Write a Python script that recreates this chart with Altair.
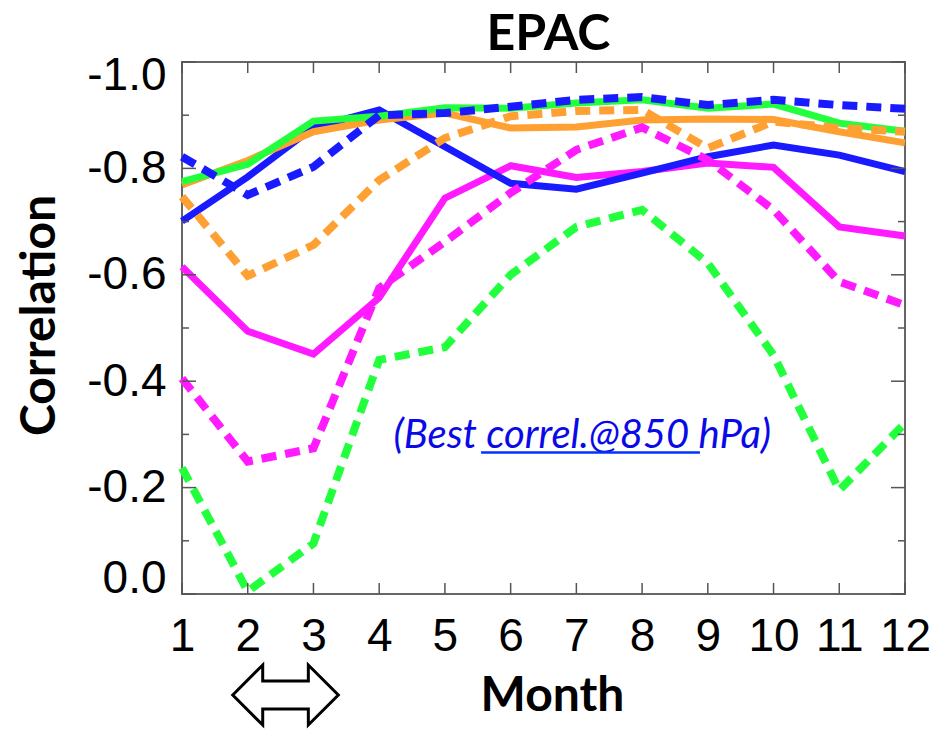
import altair as alt
import pandas as pd

# Monthly correlation curves (month 1..12), y axis drawn reversed (-1 at top)
months = list(range(1, 13))

green_solid = [-0.775, -0.808, -0.889, -0.898, -0.914, -0.913, -0.923, -0.929, -0.913, -0.921, -0.885, -0.870]
orange_solid = [-0.769, -0.815, -0.869, -0.891, -0.904, -0.876, -0.878, -0.891, -0.893, -0.892, -0.869, -0.848]
blue_solid = [-0.701, -0.784, -0.877, -0.910, -0.841, -0.772, -0.761, -0.791, -0.822, -0.844, -0.825, -0.794]
magenta_solid = [-0.615, -0.494, -0.451, -0.557, -0.744, -0.805, -0.783, -0.794, -0.810, -0.802, -0.690, -0.673]

green_dash = [-0.237, -0.005, -0.095, -0.440, -0.464, -0.600, -0.690, -0.722, -0.622, -0.449, -0.195, -0.321]
magenta_dash = [-0.405, -0.249, -0.274, -0.575, -0.662, -0.754, -0.835, -0.877, -0.816, -0.722, -0.587, -0.543]
orange_dash = [-0.747, -0.598, -0.656, -0.778, -0.857, -0.898, -0.908, -0.910, -0.838, -0.888, -0.876, -0.869]
blue_dash = [-0.822, -0.750, -0.803, -0.900, -0.904, -0.916, -0.929, -0.934, -0.919, -0.929, -0.919, -0.912]

y_major = [-1.0, -0.8, -0.6, -0.4, -0.2, 0.0]
y_minor = [-0.9, -0.7, -0.5, -0.3, -0.1]

GREEN, ORANGE, BLUE, MAGENTA = "#22ff3c", "#ffa033", "#1a1aff", "#ff1aff"

# drawing order: solids first, dashed on top
series = [
    (magenta_solid, MAGENTA, False),
    (blue_solid, BLUE, False),
    (orange_solid, ORANGE, False),
    (green_solid, GREEN, False),
    (green_dash, GREEN, True),
    (magenta_dash, MAGENTA, True),
    (orange_dash, ORANGE, True),
    (blue_dash, BLUE, True),
]

W, H = 723, 532
TICK_COLOR = "#555555"

xscale = alt.Scale(domain=[1, 12], nice=False, zero=False)
yscale = alt.Scale(domain=[-1, 0], nice=False, zero=False, reverse=True)

xaxis = alt.Axis(
    values=months, format="d", labelFont="Liberation Sans", labelFontSize=46,
    labelColor="black", labelPadding=20, labelFlush=False, labelOverlap=False,
    ticks=False, domain=False, grid=False,
    title="Month", titleFont="Lato", titleFontSize=48, titleFontWeight="bold",
    titleColor="black", titleX=370, titleY=102, titleAlign="center",
    titleBaseline="middle",
)
yaxis = alt.Axis(
    values=y_major,
    labelExpr="datum.value < 0 ? '-' + format(-datum.value, '.1f') : format(datum.value, '.1f')",
    labelFont="Liberation Sans", labelFontSize=46, labelColor="black",
    labelPadding=16, labelFlush=False, labelOverlap=False,
    labelOffset={"condition": [{"test": "datum.value <= -0.99", "value": 13},
                               {"test": "datum.value >= -0.01", "value": -16}],
                 "value": 0},
    ticks=False, domain=False, grid=False,
    title="Correlation", titleFont="Lato", titleFontSize=48, titleFontWeight="bold",
    titleColor="black", titleX=-142, titleY=253, titleAngle=-90,
    titleAlign="center", titleBaseline="middle",
)

X = alt.X("month:Q", scale=xscale, axis=xaxis)
Y = alt.Y("value:Q", scale=yscale, axis=yaxis)

layers = []
for vals, color, dashed in series:
    df = pd.DataFrame({"month": months, "value": vals})
    kw = dict(color=color, strokeWidth=7, strokeCap="butt", clip=False)
    if dashed:
        kw["strokeDash"] = [15, 9]
        kw["strokeWidth"] = 8
    layers.append(alt.Chart(df).mark_line(**kw).encode(x=X, y=Y))

# inward tick marks on all four sides
xt = pd.DataFrame({"month": months})
layers.append(alt.Chart(xt).mark_rule(color=TICK_COLOR, strokeWidth=1.5).encode(
    x=X, y=alt.value(H), y2=alt.value(H - 11)))
layers.append(alt.Chart(xt).mark_rule(color=TICK_COLOR, strokeWidth=1.5).encode(
    x=X, y=alt.value(0), y2=alt.value(11)))
for vals, length in ((y_major, 14), (y_minor, 7)):
    yt = pd.DataFrame({"value": vals})
    layers.append(alt.Chart(yt).mark_rule(color=TICK_COLOR, strokeWidth=1.5).encode(
        y=Y, x=alt.value(0), x2=alt.value(length)))
    layers.append(alt.Chart(yt).mark_rule(color=TICK_COLOR, strokeWidth=1.5).encode(
        y=Y, x=alt.value(W), x2=alt.value(W - length)))

# note inside the plot
note = pd.DataFrame({"month": [7.09], "value": [-0.274], "text": ["(Best correl.@850 hPa)"]})
layers.append(alt.Chart(note).mark_text(
    font="Lato", fontStyle="italic", fontSize=40, color="#0a0ae6",
    align="center", baseline="alphabetic").encode(x=X, y=Y, text="text:N"))
underline = pd.DataFrame({"month": [5.55], "month_end": [8.88], "value": [-0.266]})
layers.append(alt.Chart(underline).mark_rule(color="#0033ff", strokeWidth=2.5).encode(
    x=X, x2=alt.X2("month_end:Q"), y=Y))

# double-headed arrow under months 2-3
arrow_path = ("M -1 0 L -0.432 -0.568 L -0.432 -0.265 L 0.432 -0.265 L 0.432 -0.568 "
              "L 1 0 L 0.432 0.568 L 0.432 0.265 L -0.432 0.265 L -0.432 0.568 Z")
arrow = pd.DataFrame({"month": [2.575]})
layers.append(alt.Chart(arrow).mark_point(
    shape=arrow_path, size=11150, filled=True, fill="white", stroke="black",
    strokeWidth=3, opacity=1).encode(x=X, y=alt.value(633)))

chart = alt.layer(*layers).properties(
    width=W, height=H,
    padding={"left": 182, "top": 62, "right": 45, "bottom": 135},
    autosize=alt.AutoSizeParams(type="none"),
    title=alt.TitleParams("EPAC", font="Lato", fontSize=50, fontWeight="bold",
                          color="black", anchor="middle", offset=-8, dx=5),
    background="white",
).configure_view(stroke="#666666", strokeWidth=2)

chart.save("out.html", embed_options={"renderer": "svg", "actions": False})
